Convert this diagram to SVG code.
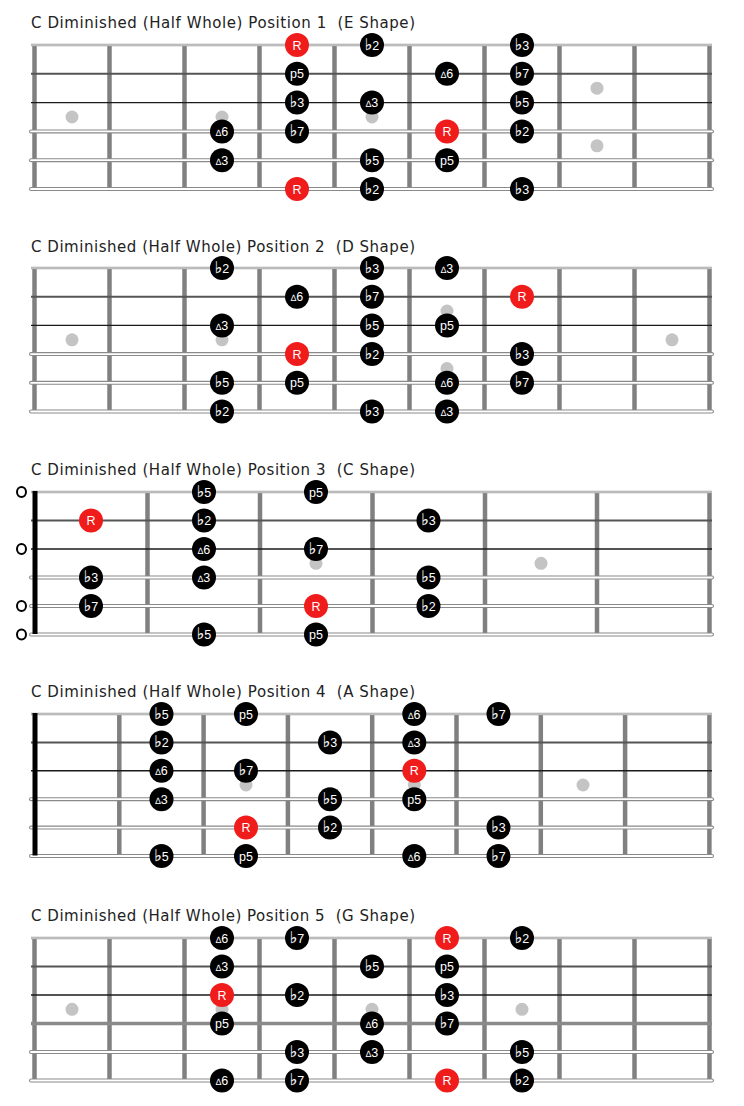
<svg xmlns="http://www.w3.org/2000/svg" width="744" height="1106" viewBox="0 0 744 1106">
<style>
.bg{fill:#fff}
.title{font-family:"DejaVu Sans",Verdana,sans-serif;font-size:15px;fill:#222;white-space:pre}
.fret{stroke:#808080;stroke-width:4.5}
.nut{stroke:#000;stroke-width:5}
.s1{stroke:#a0a0a0;stroke-width:2.6}
.s1i{stroke:#e4e4e4;stroke-width:0.8}
.s2{stroke:#555;stroke-width:2}
.s3{stroke:#1a1a1a;stroke-width:1.4}
.sw{stroke:#8a8a8a;stroke-width:4;stroke-linecap:round}
.swi{stroke:#fff;stroke-width:1.8;stroke-linecap:round}
.sg{stroke:#8a8a8a;stroke-width:3.5}
.dot{fill:#c4c4c4}
.open{fill:#fff;stroke:#000;stroke-width:2}
.n circle{fill:#000}
.n.r circle{fill:#f01c1c}
.n text{font-family:"Liberation Sans",Arial,"DejaVu Sans",sans-serif;font-size:12.5px;fill:#fff;text-anchor:middle}
.tri{font-size:9px}
.fl{font-family:"DejaVu Sans",sans-serif;font-size:16px;stroke:#fff;stroke-width:0.2}
</style>
<defs>
<g id="strA">
<line class="s1" x1="31" y1="0" x2="712" y2="0"/><line class="s1i" x1="31" y1="0" x2="712" y2="0"/>
</g>
</defs>
<rect class="bg" x="0" y="0" width="744" height="1106"/>

<!-- ===================== Position 1 ===================== -->
<g id="pos1">
<text class="title" x="31" y="28" xml:space="preserve" textLength="384" lengthAdjust="spacing">C Diminished (Half Whole) Position 1  (E Shape)</text>
<g id="pos1-frets">
<line class="fret" x1="34.5" y1="45" x2="34.5" y2="189"/>
<line class="fret" x1="109.5" y1="45" x2="109.5" y2="189"/>
<line class="fret" x1="184.5" y1="45" x2="184.5" y2="189"/>
<line class="fret" x1="259.5" y1="45" x2="259.5" y2="189"/>
<line class="fret" x1="334.5" y1="45" x2="334.5" y2="189"/>
<line class="fret" x1="409.5" y1="45" x2="409.5" y2="189"/>
<line class="fret" x1="484.5" y1="45" x2="484.5" y2="189"/>
<line class="fret" x1="559.5" y1="45" x2="559.5" y2="189"/>
<line class="fret" x1="634.5" y1="45" x2="634.5" y2="189"/>
<line class="fret" x1="709.5" y1="45" x2="709.5" y2="189"/>
</g>
<g id="pos1-strings">
<use href="#strA" y="45"/>
<line class="s2" x1="31" y1="73.8" x2="712" y2="73.8"/>
<line class="s3" x1="31" y1="102.6" x2="712" y2="102.6"/>
<line class="sw" x1="31" y1="131.4" x2="712" y2="131.4"/><line class="swi" x1="31" y1="131.4" x2="712" y2="131.4"/>
<line class="sw" x1="31" y1="160.2" x2="712" y2="160.2"/><line class="swi" x1="31" y1="160.2" x2="712" y2="160.2"/>
<line class="sw" x1="31" y1="189" x2="712" y2="189"/><line class="swi" x1="31" y1="189" x2="712" y2="189"/>
</g>
<g id="pos1-dots">
<circle class="dot" cx="72" cy="117" r="6.5"/>
<circle class="dot" cx="222" cy="117" r="6.5"/>
<circle class="dot" cx="372" cy="117" r="6.5"/>
<circle class="dot" cx="597" cy="88.2" r="6.5"/>
<circle class="dot" cx="597" cy="145.8" r="6.5"/>
</g>
<g id="pos1-notes">
<g id="p1-1-R" class="n r" transform="translate(297,45)"><circle r="12"/><text y="4.5">R</text></g>
<g id="p1-1-b2" class="n" transform="translate(372,45)"><circle r="12"/><text y="4.5"><tspan class="fl">♭</tspan>2</text></g>
<g id="p1-1-b3" class="n" transform="translate(522,45)"><circle r="12"/><text y="4.5"><tspan class="fl">♭</tspan>3</text></g>
<g id="p1-2-p5" class="n" transform="translate(297,73.8)"><circle r="12"/><text y="4.5">p5</text></g>
<g id="p1-2-d6" class="n" transform="translate(447,73.8)"><circle r="12"/><text y="4.5"><tspan class="tri">∆</tspan>6</text></g>
<g id="p1-2-b7" class="n" transform="translate(522,73.8)"><circle r="12"/><text y="4.5"><tspan class="fl">♭</tspan>7</text></g>
<g id="p1-3-b3" class="n" transform="translate(297,102.6)"><circle r="12"/><text y="4.5"><tspan class="fl">♭</tspan>3</text></g>
<g id="p1-3-d3" class="n" transform="translate(372,102.6)"><circle r="12"/><text y="4.5"><tspan class="tri">∆</tspan>3</text></g>
<g id="p1-3-b5" class="n" transform="translate(522,102.6)"><circle r="12"/><text y="4.5"><tspan class="fl">♭</tspan>5</text></g>
<g id="p1-4-d6" class="n" transform="translate(222,131.4)"><circle r="12"/><text y="4.5"><tspan class="tri">∆</tspan>6</text></g>
<g id="p1-4-b7" class="n" transform="translate(297,131.4)"><circle r="12"/><text y="4.5"><tspan class="fl">♭</tspan>7</text></g>
<g id="p1-4-R" class="n r" transform="translate(447,131.4)"><circle r="12"/><text y="4.5">R</text></g>
<g id="p1-4-b2" class="n" transform="translate(522,131.4)"><circle r="12"/><text y="4.5"><tspan class="fl">♭</tspan>2</text></g>
<g id="p1-5-d3" class="n" transform="translate(222,160.2)"><circle r="12"/><text y="4.5"><tspan class="tri">∆</tspan>3</text></g>
<g id="p1-5-b5" class="n" transform="translate(372,160.2)"><circle r="12"/><text y="4.5"><tspan class="fl">♭</tspan>5</text></g>
<g id="p1-5-p5" class="n" transform="translate(447,160.2)"><circle r="12"/><text y="4.5">p5</text></g>
<g id="p1-6-R" class="n r" transform="translate(297,189)"><circle r="12"/><text y="4.5">R</text></g>
<g id="p1-6-b2" class="n" transform="translate(372,189)"><circle r="12"/><text y="4.5"><tspan class="fl">♭</tspan>2</text></g>
<g id="p1-6-b3" class="n" transform="translate(522,189)"><circle r="12"/><text y="4.5"><tspan class="fl">♭</tspan>3</text></g>
</g>
</g>

<!-- ===================== Position 2 ===================== -->
<g id="pos2">
<text class="title" x="31" y="252" xml:space="preserve" textLength="384" lengthAdjust="spacing">C Diminished (Half Whole) Position 2  (D Shape)</text>
<g id="pos2-frets">
<line class="fret" x1="34.5" y1="268" x2="34.5" y2="411.5"/>
<line class="fret" x1="109.5" y1="268" x2="109.5" y2="411.5"/>
<line class="fret" x1="184.5" y1="268" x2="184.5" y2="411.5"/>
<line class="fret" x1="259.5" y1="268" x2="259.5" y2="411.5"/>
<line class="fret" x1="334.5" y1="268" x2="334.5" y2="411.5"/>
<line class="fret" x1="409.5" y1="268" x2="409.5" y2="411.5"/>
<line class="fret" x1="484.5" y1="268" x2="484.5" y2="411.5"/>
<line class="fret" x1="559.5" y1="268" x2="559.5" y2="411.5"/>
<line class="fret" x1="634.5" y1="268" x2="634.5" y2="411.5"/>
<line class="fret" x1="709.5" y1="268" x2="709.5" y2="411.5"/>
</g>
<g id="pos2-strings">
<use href="#strA" y="268"/>
<line class="s2" x1="31" y1="296.7" x2="712" y2="296.7"/>
<line class="s3" x1="31" y1="325.4" x2="712" y2="325.4"/>
<line class="sw" x1="31" y1="354.1" x2="712" y2="354.1"/><line class="swi" x1="31" y1="354.1" x2="712" y2="354.1"/>
<line class="sw" x1="31" y1="382.8" x2="712" y2="382.8"/><line class="swi" x1="31" y1="382.8" x2="712" y2="382.8"/>
<line class="sw" x1="31" y1="411.5" x2="712" y2="411.5"/><line class="swi" x1="31" y1="411.5" x2="712" y2="411.5"/>
</g>
<g id="pos2-dots">
<circle class="dot" cx="72" cy="339.8" r="6.5"/>
<circle class="dot" cx="222" cy="339.8" r="6.5"/>
<circle class="dot" cx="447" cy="311" r="6.5"/>
<circle class="dot" cx="447" cy="368.5" r="6.5"/>
<circle class="dot" cx="672" cy="339.8" r="6.5"/>
</g>
<g id="pos2-notes">
<g id="p2-1-b2" class="n" transform="translate(222,268)"><circle r="12"/><text y="4.5"><tspan class="fl">♭</tspan>2</text></g>
<g id="p2-1-b3" class="n" transform="translate(372,268)"><circle r="12"/><text y="4.5"><tspan class="fl">♭</tspan>3</text></g>
<g id="p2-1-d3" class="n" transform="translate(447,268)"><circle r="12"/><text y="4.5"><tspan class="tri">∆</tspan>3</text></g>
<g id="p2-2-d6" class="n" transform="translate(297,296.7)"><circle r="12"/><text y="4.5"><tspan class="tri">∆</tspan>6</text></g>
<g id="p2-2-b7" class="n" transform="translate(372,296.7)"><circle r="12"/><text y="4.5"><tspan class="fl">♭</tspan>7</text></g>
<g id="p2-2-R" class="n r" transform="translate(522,296.7)"><circle r="12"/><text y="4.5">R</text></g>
<g id="p2-3-d3" class="n" transform="translate(222,325.4)"><circle r="12"/><text y="4.5"><tspan class="tri">∆</tspan>3</text></g>
<g id="p2-3-b5" class="n" transform="translate(372,325.4)"><circle r="12"/><text y="4.5"><tspan class="fl">♭</tspan>5</text></g>
<g id="p2-3-p5" class="n" transform="translate(447,325.4)"><circle r="12"/><text y="4.5">p5</text></g>
<g id="p2-4-R" class="n r" transform="translate(297,354.1)"><circle r="12"/><text y="4.5">R</text></g>
<g id="p2-4-b2" class="n" transform="translate(372,354.1)"><circle r="12"/><text y="4.5"><tspan class="fl">♭</tspan>2</text></g>
<g id="p2-4-b3" class="n" transform="translate(522,354.1)"><circle r="12"/><text y="4.5"><tspan class="fl">♭</tspan>3</text></g>
<g id="p2-5-b5" class="n" transform="translate(222,382.8)"><circle r="12"/><text y="4.5"><tspan class="fl">♭</tspan>5</text></g>
<g id="p2-5-p5" class="n" transform="translate(297,382.8)"><circle r="12"/><text y="4.5">p5</text></g>
<g id="p2-5-d6" class="n" transform="translate(447,382.8)"><circle r="12"/><text y="4.5"><tspan class="tri">∆</tspan>6</text></g>
<g id="p2-5-b7" class="n" transform="translate(522,382.8)"><circle r="12"/><text y="4.5"><tspan class="fl">♭</tspan>7</text></g>
<g id="p2-6-b2" class="n" transform="translate(222,411.5)"><circle r="12"/><text y="4.5"><tspan class="fl">♭</tspan>2</text></g>
<g id="p2-6-b3" class="n" transform="translate(372,411.5)"><circle r="12"/><text y="4.5"><tspan class="fl">♭</tspan>3</text></g>
<g id="p2-6-d3" class="n" transform="translate(447,411.5)"><circle r="12"/><text y="4.5"><tspan class="tri">∆</tspan>3</text></g>
</g>
</g>

<!-- ===================== Position 3 ===================== -->
<g id="pos3">
<text class="title" x="31" y="475" xml:space="preserve" textLength="384" lengthAdjust="spacing">C Diminished (Half Whole) Position 3  (C Shape)</text>
<g id="pos3-frets">
<line class="fret" x1="147.5" y1="492" x2="147.5" y2="634.5"/>
<line class="fret" x1="260" y1="492" x2="260" y2="634.5"/>
<line class="fret" x1="372.5" y1="492" x2="372.5" y2="634.5"/>
<line class="fret" x1="485" y1="492" x2="485" y2="634.5"/>
<line class="fret" x1="597" y1="492" x2="597" y2="634.5"/>
<line class="fret" x1="709.5" y1="492" x2="709.5" y2="634.5"/>
</g>
<g id="pos3-strings">
<use href="#strA" y="492"/>
<line class="s2" x1="31" y1="520.5" x2="712" y2="520.5"/>
<line class="s3" x1="31" y1="549" x2="712" y2="549"/>
<line class="sw" x1="31" y1="577.5" x2="712" y2="577.5"/><line class="swi" x1="31" y1="577.5" x2="712" y2="577.5"/>
<line class="sw" x1="31" y1="606" x2="712" y2="606"/><line class="swi" x1="31" y1="606" x2="712" y2="606"/>
<line class="sw" x1="31" y1="634.5" x2="712" y2="634.5"/><line class="swi" x1="31" y1="634.5" x2="712" y2="634.5"/>
</g>
<line id="pos3-nut" class="nut" x1="35" y1="491" x2="35" y2="634"/>
<g id="pos3-open">
<ellipse class="open" cx="21.5" cy="492" rx="4.5" ry="5"/>
<ellipse class="open" cx="21.5" cy="549" rx="4.5" ry="5"/>
<ellipse class="open" cx="21.5" cy="606" rx="4.5" ry="5"/>
<ellipse class="open" cx="21.5" cy="634.5" rx="4.5" ry="5"/>
</g>
<g id="pos3-dots">
<circle class="dot" cx="316" cy="563.3" r="6.5"/>
<circle class="dot" cx="541" cy="563.3" r="6.5"/>
</g>
<g id="pos3-notes">
<g id="p3-1-b5" class="n" transform="translate(204,492)"><circle r="12"/><text y="4.5"><tspan class="fl">♭</tspan>5</text></g>
<g id="p3-1-p5" class="n" transform="translate(316,492)"><circle r="12"/><text y="4.5">p5</text></g>
<g id="p3-2-R" class="n r" transform="translate(91,520.5)"><circle r="12"/><text y="4.5">R</text></g>
<g id="p3-2-b2" class="n" transform="translate(204,520.5)"><circle r="12"/><text y="4.5"><tspan class="fl">♭</tspan>2</text></g>
<g id="p3-2-b3" class="n" transform="translate(428.5,520.5)"><circle r="12"/><text y="4.5"><tspan class="fl">♭</tspan>3</text></g>
<g id="p3-3-d6" class="n" transform="translate(204,549)"><circle r="12"/><text y="4.5"><tspan class="tri">∆</tspan>6</text></g>
<g id="p3-3-b7" class="n" transform="translate(316,549)"><circle r="12"/><text y="4.5"><tspan class="fl">♭</tspan>7</text></g>
<g id="p3-4-b3" class="n" transform="translate(91,577.5)"><circle r="12"/><text y="4.5"><tspan class="fl">♭</tspan>3</text></g>
<g id="p3-4-d3" class="n" transform="translate(204,577.5)"><circle r="12"/><text y="4.5"><tspan class="tri">∆</tspan>3</text></g>
<g id="p3-4-b5" class="n" transform="translate(428.5,577.5)"><circle r="12"/><text y="4.5"><tspan class="fl">♭</tspan>5</text></g>
<g id="p3-5-b7" class="n" transform="translate(91,606)"><circle r="12"/><text y="4.5"><tspan class="fl">♭</tspan>7</text></g>
<g id="p3-5-R" class="n r" transform="translate(316,606)"><circle r="12"/><text y="4.5">R</text></g>
<g id="p3-5-b2" class="n" transform="translate(428.5,606)"><circle r="12"/><text y="4.5"><tspan class="fl">♭</tspan>2</text></g>
<g id="p3-6-b5" class="n" transform="translate(204,634.5)"><circle r="12"/><text y="4.5"><tspan class="fl">♭</tspan>5</text></g>
<g id="p3-6-p5" class="n" transform="translate(316,634.5)"><circle r="12"/><text y="4.5">p5</text></g>
</g>
</g>

<!-- ===================== Position 4 ===================== -->
<g id="pos4">
<text class="title" x="31" y="697" xml:space="preserve" textLength="384" lengthAdjust="spacing">C Diminished (Half Whole) Position 4  (A Shape)</text>
<g id="pos4-frets">
<line class="fret" x1="119.3" y1="714" x2="119.3" y2="856"/>
<line class="fret" x1="203.6" y1="714" x2="203.6" y2="856"/>
<line class="fret" x1="287.9" y1="714" x2="287.9" y2="856"/>
<line class="fret" x1="372.2" y1="714" x2="372.2" y2="856"/>
<line class="fret" x1="456.5" y1="714" x2="456.5" y2="856"/>
<line class="fret" x1="540.8" y1="714" x2="540.8" y2="856"/>
<line class="fret" x1="625.1" y1="714" x2="625.1" y2="856"/>
<line class="fret" x1="709.4" y1="714" x2="709.4" y2="856"/>
</g>
<g id="pos4-strings">
<use href="#strA" y="714"/>
<line class="s2" x1="31" y1="742.4" x2="712" y2="742.4"/>
<line class="s3" x1="31" y1="770.8" x2="712" y2="770.8"/>
<line class="sw" x1="31" y1="799.2" x2="712" y2="799.2"/><line class="swi" x1="31" y1="799.2" x2="712" y2="799.2"/>
<line class="sw" x1="31" y1="827.6" x2="712" y2="827.6"/><line class="swi" x1="31" y1="827.6" x2="712" y2="827.6"/>
<line class="sw" x1="31" y1="856" x2="712" y2="856"/><line class="swi" x1="31" y1="856" x2="712" y2="856"/>
</g>
<line id="pos4-nut" class="nut" x1="35" y1="713" x2="35" y2="855.5"/>
<g id="pos4-dots">
<circle class="dot" cx="246" cy="785" r="6.5"/>
<circle class="dot" cx="414.3" cy="785" r="6.5"/>
<circle class="dot" cx="583" cy="785" r="6.5"/>
</g>
<g id="pos4-notes">
<g id="p4-1-b5" class="n" transform="translate(161.5,714)"><circle r="12"/><text y="4.5"><tspan class="fl">♭</tspan>5</text></g>
<g id="p4-1-p5" class="n" transform="translate(246,714)"><circle r="12"/><text y="4.5">p5</text></g>
<g id="p4-1-d6" class="n" transform="translate(414.3,714)"><circle r="12"/><text y="4.5"><tspan class="tri">∆</tspan>6</text></g>
<g id="p4-1-b7" class="n" transform="translate(498.5,714)"><circle r="12"/><text y="4.5"><tspan class="fl">♭</tspan>7</text></g>
<g id="p4-2-b2" class="n" transform="translate(161.5,742.4)"><circle r="12"/><text y="4.5"><tspan class="fl">♭</tspan>2</text></g>
<g id="p4-2-b3" class="n" transform="translate(330,742.4)"><circle r="12"/><text y="4.5"><tspan class="fl">♭</tspan>3</text></g>
<g id="p4-2-d3" class="n" transform="translate(414.3,742.4)"><circle r="12"/><text y="4.5"><tspan class="tri">∆</tspan>3</text></g>
<g id="p4-3-d6" class="n" transform="translate(161.5,770.8)"><circle r="12"/><text y="4.5"><tspan class="tri">∆</tspan>6</text></g>
<g id="p4-3-b7" class="n" transform="translate(246,770.8)"><circle r="12"/><text y="4.5"><tspan class="fl">♭</tspan>7</text></g>
<g id="p4-3-R" class="n r" transform="translate(414.3,770.8)"><circle r="12"/><text y="4.5">R</text></g>
<g id="p4-4-d3" class="n" transform="translate(161.5,799.2)"><circle r="12"/><text y="4.5"><tspan class="tri">∆</tspan>3</text></g>
<g id="p4-4-b5" class="n" transform="translate(330,799.2)"><circle r="12"/><text y="4.5"><tspan class="fl">♭</tspan>5</text></g>
<g id="p4-4-p5" class="n" transform="translate(414.3,799.2)"><circle r="12"/><text y="4.5">p5</text></g>
<g id="p4-5-R" class="n r" transform="translate(246,827.6)"><circle r="12"/><text y="4.5">R</text></g>
<g id="p4-5-b2" class="n" transform="translate(330,827.6)"><circle r="12"/><text y="4.5"><tspan class="fl">♭</tspan>2</text></g>
<g id="p4-5-b3" class="n" transform="translate(498.5,827.6)"><circle r="12"/><text y="4.5"><tspan class="fl">♭</tspan>3</text></g>
<g id="p4-6-b5" class="n" transform="translate(161.5,856)"><circle r="12"/><text y="4.5"><tspan class="fl">♭</tspan>5</text></g>
<g id="p4-6-p5" class="n" transform="translate(246,856)"><circle r="12"/><text y="4.5">p5</text></g>
<g id="p4-6-d6" class="n" transform="translate(414.3,856)"><circle r="12"/><text y="4.5"><tspan class="tri">∆</tspan>6</text></g>
<g id="p4-6-b7" class="n" transform="translate(498.5,856)"><circle r="12"/><text y="4.5"><tspan class="fl">♭</tspan>7</text></g>
</g>
</g>

<!-- ===================== Position 5 ===================== -->
<g id="pos5">
<text class="title" x="31" y="921" xml:space="preserve" textLength="384" lengthAdjust="spacing">C Diminished (Half Whole) Position 5  (G Shape)</text>
<g id="pos5-frets">
<line class="fret" x1="34.5" y1="938" x2="34.5" y2="1080.5"/>
<line class="fret" x1="109.5" y1="938" x2="109.5" y2="1080.5"/>
<line class="fret" x1="184.5" y1="938" x2="184.5" y2="1080.5"/>
<line class="fret" x1="259.5" y1="938" x2="259.5" y2="1080.5"/>
<line class="fret" x1="334.5" y1="938" x2="334.5" y2="1080.5"/>
<line class="fret" x1="409.5" y1="938" x2="409.5" y2="1080.5"/>
<line class="fret" x1="484.5" y1="938" x2="484.5" y2="1080.5"/>
<line class="fret" x1="559.5" y1="938" x2="559.5" y2="1080.5"/>
<line class="fret" x1="634.5" y1="938" x2="634.5" y2="1080.5"/>
<line class="fret" x1="709.5" y1="938" x2="709.5" y2="1080.5"/>
</g>
<g id="pos5-strings">
<use href="#strA" y="938"/>
<line class="s2" x1="31" y1="966.5" x2="712" y2="966.5"/>
<line class="s3" x1="31" y1="995" x2="712" y2="995"/>
<line class="sg" x1="31" y1="1023.5" x2="712" y2="1023.5"/>
<line class="sw" x1="31" y1="1052" x2="712" y2="1052"/><line class="swi" x1="31" y1="1052" x2="712" y2="1052"/>
<line class="sw" x1="31" y1="1080.5" x2="712" y2="1080.5"/><line class="swi" x1="31" y1="1080.5" x2="712" y2="1080.5"/>
</g>
<g id="pos5-dots">
<circle class="dot" cx="72" cy="1009.3" r="6.5"/>
<circle class="dot" cx="222" cy="1009.3" r="6.5"/>
<circle class="dot" cx="372" cy="1009.3" r="6.5"/>
<circle class="dot" cx="522" cy="1009.3" r="6.5"/>
</g>
<g id="pos5-notes">
<g id="p5-1-d6" class="n" transform="translate(222,938)"><circle r="12"/><text y="4.5"><tspan class="tri">∆</tspan>6</text></g>
<g id="p5-1-b7" class="n" transform="translate(297,938)"><circle r="12"/><text y="4.5"><tspan class="fl">♭</tspan>7</text></g>
<g id="p5-1-R" class="n r" transform="translate(447,938)"><circle r="12"/><text y="4.5">R</text></g>
<g id="p5-1-b2" class="n" transform="translate(522,938)"><circle r="12"/><text y="4.5"><tspan class="fl">♭</tspan>2</text></g>
<g id="p5-2-d3" class="n" transform="translate(222,966.5)"><circle r="12"/><text y="4.5"><tspan class="tri">∆</tspan>3</text></g>
<g id="p5-2-b5" class="n" transform="translate(372,966.5)"><circle r="12"/><text y="4.5"><tspan class="fl">♭</tspan>5</text></g>
<g id="p5-2-p5" class="n" transform="translate(447,966.5)"><circle r="12"/><text y="4.5">p5</text></g>
<g id="p5-3-R" class="n r" transform="translate(222,995)"><circle r="12"/><text y="4.5">R</text></g>
<g id="p5-3-b2" class="n" transform="translate(297,995)"><circle r="12"/><text y="4.5"><tspan class="fl">♭</tspan>2</text></g>
<g id="p5-3-b3" class="n" transform="translate(447,995)"><circle r="12"/><text y="4.5"><tspan class="fl">♭</tspan>3</text></g>
<g id="p5-4-p5" class="n" transform="translate(222,1023.5)"><circle r="12"/><text y="4.5">p5</text></g>
<g id="p5-4-d6" class="n" transform="translate(372,1023.5)"><circle r="12"/><text y="4.5"><tspan class="tri">∆</tspan>6</text></g>
<g id="p5-4-b7" class="n" transform="translate(447,1023.5)"><circle r="12"/><text y="4.5"><tspan class="fl">♭</tspan>7</text></g>
<g id="p5-5-b3" class="n" transform="translate(297,1052)"><circle r="12"/><text y="4.5"><tspan class="fl">♭</tspan>3</text></g>
<g id="p5-5-d3" class="n" transform="translate(372,1052)"><circle r="12"/><text y="4.5"><tspan class="tri">∆</tspan>3</text></g>
<g id="p5-5-b5" class="n" transform="translate(522,1052)"><circle r="12"/><text y="4.5"><tspan class="fl">♭</tspan>5</text></g>
<g id="p5-6-d6" class="n" transform="translate(222,1080.5)"><circle r="12"/><text y="4.5"><tspan class="tri">∆</tspan>6</text></g>
<g id="p5-6-b7" class="n" transform="translate(297,1080.5)"><circle r="12"/><text y="4.5"><tspan class="fl">♭</tspan>7</text></g>
<g id="p5-6-R" class="n r" transform="translate(447,1080.5)"><circle r="12"/><text y="4.5">R</text></g>
<g id="p5-6-b2" class="n" transform="translate(522,1080.5)"><circle r="12"/><text y="4.5"><tspan class="fl">♭</tspan>2</text></g>
</g>
</g>
</svg>
